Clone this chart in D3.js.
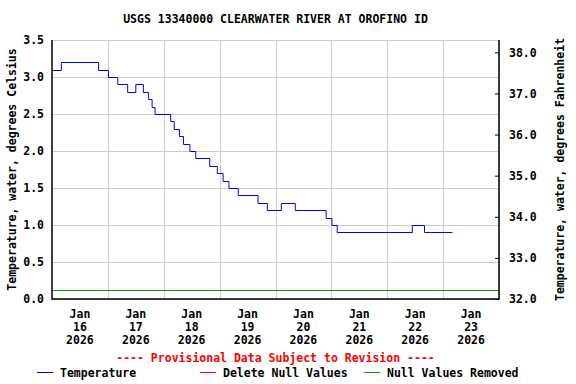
<!DOCTYPE html>
<html>
<head>
<meta charset="utf-8">
<script src="https://cdn.jsdelivr.net/npm/d3@7"></script>
<style>
  body { margin: 0; background: #fff; }
  svg text { font-family: "DejaVu Sans Mono", monospace; font-weight: bold; }
</style>
</head>
<body>
<svg id="chart" width="576" height="384"></svg>
<script>
// Change points of the 15-min water temperature record (deg C)
const changeTimes = [
  "2026-01-16T00:00", "2026-01-16T04:00", "2026-01-16T20:00", "2026-01-17T00:15",
  "2026-01-17T04:15", "2026-01-17T08:30", "2026-01-17T12:00", "2026-01-17T15:15",
  "2026-01-17T17:30", "2026-01-17T19:00", "2026-01-17T20:15", "2026-01-18T03:00",
  "2026-01-18T04:30", "2026-01-18T06:45", "2026-01-18T08:30", "2026-01-18T11:15",
  "2026-01-18T13:45", "2026-01-18T19:45", "2026-01-18T23:00", "2026-01-19T01:30",
  "2026-01-19T04:00", "2026-01-19T08:00", "2026-01-19T16:30", "2026-01-19T20:30",
  "2026-01-20T02:30", "2026-01-20T08:30", "2026-01-20T21:45", "2026-01-21T00:15",
  "2026-01-21T02:30", "2026-01-22T10:45", "2026-01-22T16:00", "2026-01-23T04:00"
];
const tempValues = [
  3.1, 3.2, 3.1, 3.0,
  2.9, 2.8, 2.9, 2.8,
  2.7, 2.6, 2.5, 2.4,
  2.3, 2.2, 2.1, 2.0,
  1.9, 1.8, 1.7, 1.6,
  1.5, 1.4, 1.3, 1.2,
  1.3, 1.2, 1.1, 1.0,
  0.9, 1.0, 0.9, 0.9
];
const nullRemovedValue = 0.12;
const dayTicks = ["2026-01-16", "2026-01-17", "2026-01-18", "2026-01-19",
                  "2026-01-20", "2026-01-21", "2026-01-22", "2026-01-23"];
const celsiusTicks = [0, 0.5, 1.0, 1.5, 2.0, 2.5, 3.0, 3.5];
const fahrenheitTicks = [32, 33, 34, 35, 36, 37, 38];
const legendItems = [
  { label: "Temperature", color: "#0000ff" },
  { label: "Delete Null Values", color: "#ff0000" },
  { label: "Null Values Removed", color: "#00a000" }
];

const svg = d3.select("#chart");
const margin = { top: 40, right: 77, bottom: 85, left: 52 };
const W = 576, H = 384;
const pw = W - margin.left - margin.right;
const ph = H - margin.top - margin.bottom;

const parse = d3.timeParse("%Y-%m-%dT%H:%M");
const parseDay = d3.timeParse("%Y-%m-%d");
const data = changeTimes.map((t, i) => ({ t: parse(t), v: tempValues[i] }));

const x = d3.scaleTime()
  .domain([parseDay("2026-01-16"), parseDay("2026-01-24")])
  .range([margin.left, margin.left + pw]);
const y = d3.scaleLinear().domain([0, 3.5]).range([margin.top + ph, margin.top]);
const yF = d3.scaleLinear().domain([32, 32 + 3.5 * 1.8]).range([margin.top + ph, margin.top]);

// title
svg.append("text")
  .attr("x", margin.left + pw / 2).attr("y", 23)
  .attr("text-anchor", "middle").attr("font-size", 11.5)
  .text("USGS 13340000 CLEARWATER RIVER AT OROFINO ID");

// grid
const grid = svg.append("g").attr("stroke", "#cccccc").attr("stroke-width", 1);
grid.selectAll(".gx").data(dayTicks.slice(1).concat(["2026-01-24"]).map(parseDay)).join("line")
  .attr("x1", d => Math.round(x(d)) + 0.5).attr("x2", d => Math.round(x(d)) + 0.5)
  .attr("y1", margin.top).attr("y2", margin.top + ph);
grid.selectAll(".gy").data(celsiusTicks).join("line")
  .attr("x1", margin.left).attr("x2", margin.left + pw)
  .attr("y1", d => Math.round(y(d)) + 0.5).attr("y2", d => Math.round(y(d)) + 0.5);

// null values removed line
svg.append("line")
  .attr("x1", margin.left).attr("x2", margin.left + pw)
  .attr("y1", Math.round(y(nullRemovedValue)) + 0.5).attr("y2", Math.round(y(nullRemovedValue)) + 0.5)
  .attr("stroke", "#00a000").attr("stroke-width", 1);

// temperature series
const line = d3.line().x(d => x(d.t)).y(d => Math.round(y(d.v)) + 0.5).curve(d3.curveStepAfter);
svg.append("path").datum(data)
  .attr("fill", "none").attr("stroke", "#0000ff").attr("stroke-width", 1)
  .attr("d", line);

// frame (left, bottom, right)
const fr = svg.append("g").attr("stroke", "#000").attr("stroke-width", 1.5).attr("fill", "none");
fr.append("path").attr("d",
  `M${margin.left},${margin.top}V${margin.top + ph}H${margin.left + pw}V${margin.top}`);

// left axis
const yAxis = d3.axisLeft(y).tickValues(celsiusTicks).tickFormat(d3.format(".1f")).tickSize(0).tickPadding(8);
const gl = svg.append("g").attr("transform", `translate(${margin.left},0)`).call(yAxis);
gl.select(".domain").remove();
gl.selectAll("text").attr("font-size", 11.5).attr("fill", "#000");

// right axis, ticks inside
const yAxisR = d3.axisRight(yF).tickValues(fahrenheitTicks).tickFormat(d3.format(".1f")).tickSizeInner(-4).tickSizeOuter(0).tickPadding(10);
const gr = svg.append("g").attr("transform", `translate(${margin.left + pw},0)`).call(yAxisR);
gr.select(".domain").remove();
gr.selectAll("line").attr("stroke", "#000");
gr.selectAll("text").attr("font-size", 11.5).attr("fill", "#000");

// x labels at noon of each day
const xl = svg.append("g").attr("font-size", 11.5).attr("text-anchor", "middle");
dayTicks.map(parseDay).forEach(d => {
  const cx = x(d3.timeHour.offset(d, 12));
  const t = xl.append("text").attr("x", cx).attr("y", margin.top + ph + 19);
  t.append("tspan").attr("x", cx).text(d3.timeFormat("%b")(d));
  t.append("tspan").attr("x", cx).attr("dy", 13).text(d3.timeFormat("%d")(d));
  t.append("tspan").attr("x", cx).attr("dy", 13).text(d3.timeFormat("%Y")(d));
});

// axis titles
svg.append("text")
  .attr("transform", `translate(16,${margin.top + ph / 2}) rotate(-90)`)
  .attr("text-anchor", "middle").attr("font-size", 11.5)
  .text("Temperature, water, degrees Celsius");
svg.append("text")
  .attr("transform", `translate(564,${margin.top + ph / 2}) rotate(-90)`)
  .attr("text-anchor", "middle").attr("font-size", 11.5)
  .text("Temperature, water, degrees Fahrenheit");

// provisional note
svg.append("text")
  .attr("x", margin.left + pw / 2).attr("y", 362)
  .attr("text-anchor", "middle").attr("font-size", 11.5).attr("fill", "#ff0000")
  .text("---- Provisional Data Subject to Revision ----");

// legend
const legendX = [37, 200, 364];
const lg = svg.append("g");
legendItems.forEach((it, i) => {
  lg.append("line").attr("x1", legendX[i]).attr("x2", legendX[i] + 16)
    .attr("y1", 372.5).attr("y2", 372.5).attr("stroke", it.color);
  lg.append("text").attr("x", legendX[i] + 23).attr("y", 377)
    .attr("font-size", 11.5).text(it.label);
});
</script>
</body>
</html>
